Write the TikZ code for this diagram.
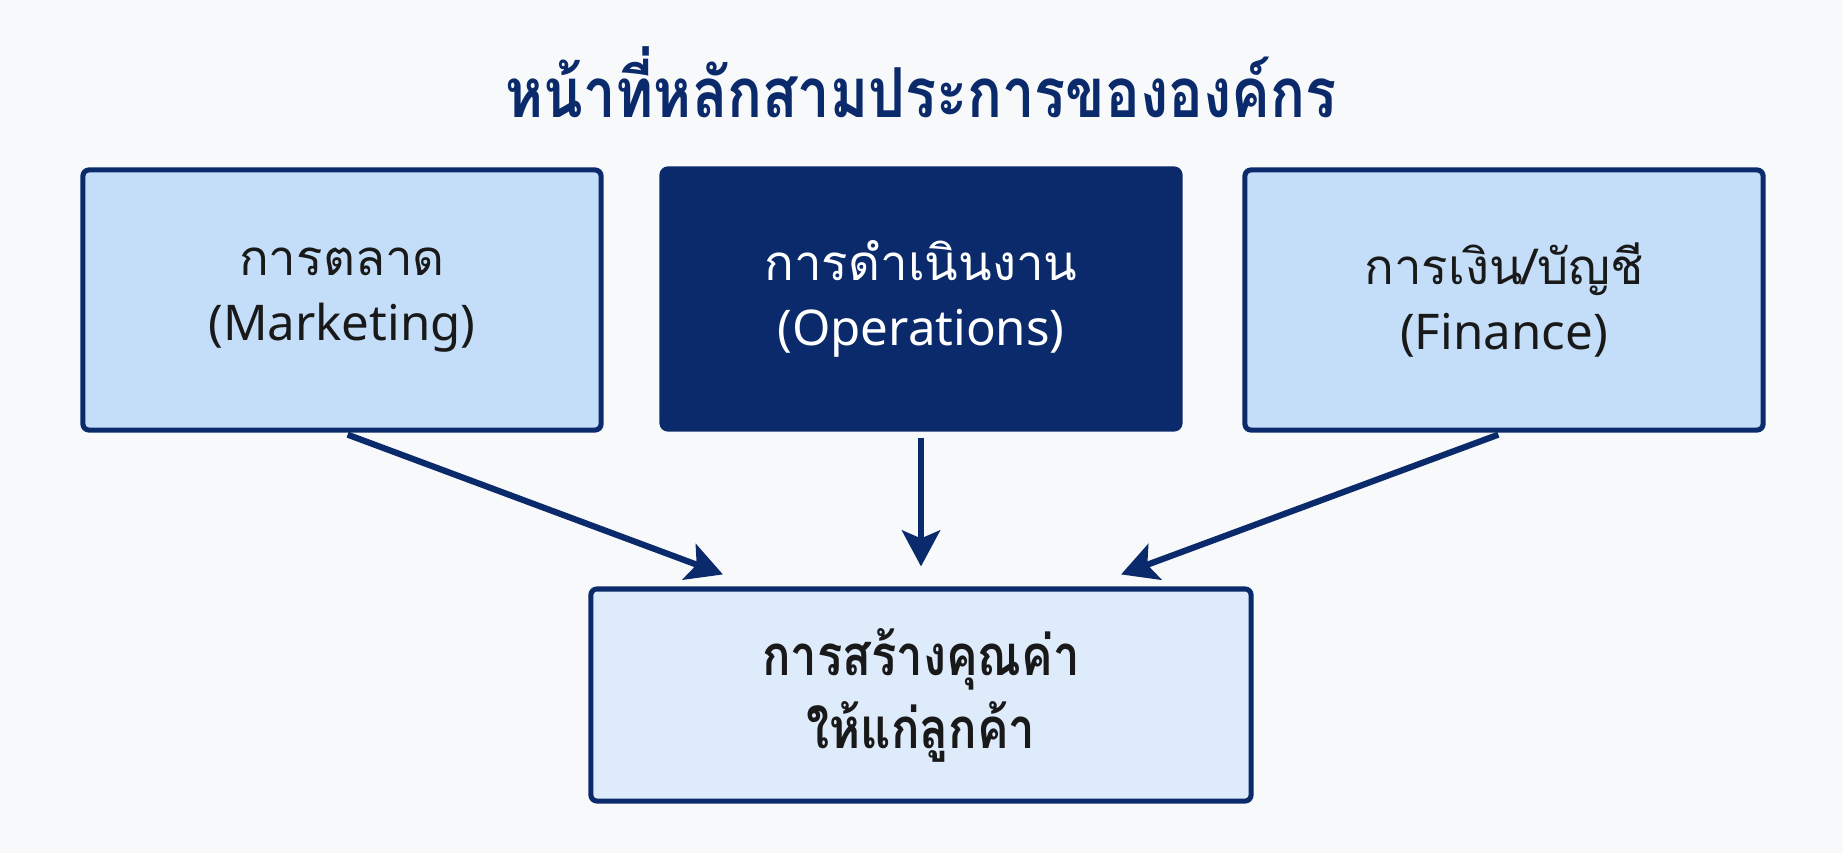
\documentclass[tikz,border=0pt]{standalone}
\usepackage{fontspec}
\setmainfont{Noto Sans}
\newfontfamily\thaifont[Script=Thai]{Loma}
\newfontfamily\thaicond[Script=Thai,FakeStretch=0.84]{Loma}
\usetikzlibrary{arrows.meta}
\definecolor{navy}{HTML}{0B2A6B}
\definecolor{boxblue}{HTML}{C4DEF9}
\definecolor{paleblue}{HTML}{DDEBFB}
\definecolor{bggray}{HTML}{F8F9FB}

\begin{document}
\begin{tikzpicture}[x=0.025cm,y=-0.025cm,
  func/.style={draw=navy,line width=3.6pt,rounded corners=1.5mm,fill=boxblue,text=black!90,
    minimum width=12.95cm,minimum height=6.5cm,align=center,font=\fontsize{35}{46}\selectfont},
  flow/.style={draw=navy,line width=4.4pt,-{Stealth[length=9mm,width=9.5mm,inset=2mm]},shorten <=1.5mm}]
\fill[bggray] (0,0) rectangle (1843,853);
\useasboundingbox (0,0) rectangle (1843,853);
\node[text=navy,font=\fontsize{49}{56}\selectfont\thaicond\bfseries] (title) at (921,82) {หน้าที่หลักสามประการขององค์กร};
% three functions
\node[func] (mkt) at (342,300) {{\thaifont การตลาด}\\(Marketing)};
\node[func,fill=navy,text=white] (ops) at (921,299) {{\thaifont การดำเนินงาน}\\(Operations)};
\node[func] (fin) at (1504,300) {{\thaifont การเงิน/บัญชี}\\(Finance)};
% result
\node[func,fill=paleblue,minimum width=16.5cm,minimum height=5.3cm,font=\fontsize{40}{52}\selectfont\thaicond\bfseries] (value) at (921,695) {การสร้างคุณค่า\\ให้แก่ลูกค้า};
\draw[flow] (mkt.south) -- ([xshift=-4.95cm,yshift=0.3cm]value.north);
\draw[flow] (ops.south) -- ([yshift=0.5cm]value.north);
\draw[flow] (fin.south) -- ([xshift=5cm,yshift=0.3cm]value.north);
\end{tikzpicture}
\end{document}
